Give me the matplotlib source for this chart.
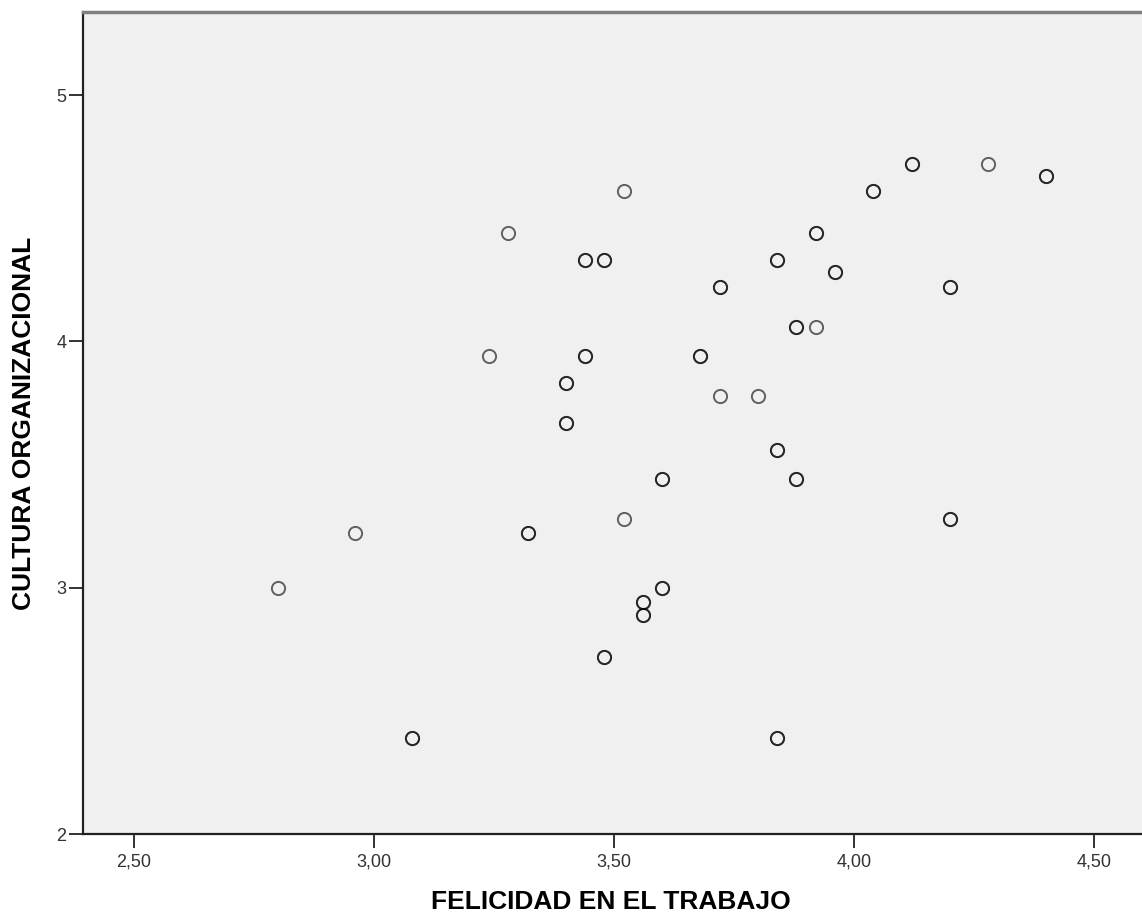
import matplotlib.pyplot as plt
from matplotlib.ticker import FuncFormatter

# felicidad en el trabajo (x) vs cultura organizacional (y)
# repeated pairs are real duplicates, they show up as darker circles
felicidad = [2.80, 2.96, 3.08, 3.08, 3.24, 3.28, 3.32, 3.32, 3.40, 3.40,
             3.40, 3.40, 3.44, 3.44, 3.44, 3.44, 3.48, 3.48, 3.48, 3.48,
             3.52, 3.52, 3.56, 3.56, 3.56, 3.56, 3.60, 3.60, 3.60, 3.60,
             3.68, 3.68, 3.72, 3.72, 3.72, 3.80, 3.84, 3.84, 3.84, 3.84,
             3.84, 3.84, 3.88, 3.88, 3.88, 3.88, 3.92, 3.92, 3.92, 3.96,
             3.96, 4.04, 4.04, 4.12, 4.12, 4.20, 4.20, 4.20, 4.20, 4.28,
             4.40, 4.40]
cultura = [3.00, 3.22, 2.39, 2.39, 3.94, 4.44, 3.22, 3.22, 3.67, 3.67,
           3.83, 3.83, 3.94, 3.94, 4.33, 4.33, 4.33, 4.33, 2.72, 2.72,
           4.61, 3.28, 2.94, 2.94, 2.89, 2.89, 3.44, 3.44, 3.00, 3.00,
           3.94, 3.94, 4.22, 4.22, 3.78, 3.78, 4.33, 4.33, 3.56, 3.56,
           2.39, 2.39, 4.06, 4.06, 3.44, 3.44, 4.44, 4.44, 4.06, 4.28,
           4.28, 4.61, 4.61, 4.72, 4.72, 4.22, 4.22, 3.28, 3.28, 4.72,
           4.67, 4.67]

x_ticks = [2.50, 3.00, 3.50, 4.00, 4.50]
y_ticks = [2, 3, 4, 5]

plt.rcParams['font.family'] = ['Liberation Sans', 'DejaVu Sans']

fig = plt.figure(figsize=(11.42, 9.17), dpi=100)
ax = fig.add_axes([0.0727, 0.0905, 0.9273, 0.8964])
ax.set_facecolor('#f0f0f0')

ax.plot(felicidad, cultura, linestyle='none', marker='o', markersize=9.5,
        markerfacecolor='none', markeredgecolor='black',
        markeredgewidth=1.4, alpha=0.6)

ax.set_xlim(2.394, 4.60)
ax.set_ylim(2, 5.337)
ax.set_xticks(x_ticks)
ax.set_yticks(y_ticks)
ax.xaxis.set_major_formatter(FuncFormatter(lambda v, p: f'{v:.2f}'.replace('.', ',')))
ax.yaxis.set_major_formatter(FuncFormatter(lambda v, p: f'{v:.0f}'))
ax.tick_params(axis='both', length=10, width=1.3, color='#222222',
               labelsize=13, labelcolor='#333333')
ax.tick_params(axis='x', pad=4)
ax.tick_params(axis='y', pad=2)

ax.spines['left'].set_linewidth(1.6)
ax.spines['bottom'].set_linewidth(1.6)
ax.spines['left'].set_color('#222222')
ax.spines['bottom'].set_color('#222222')
ax.spines['top'].set_color('#808080')
ax.spines['top'].set_linewidth(2.5)
ax.spines['right'].set_visible(False)

ax.set_xlabel('FELICIDAD EN EL TRABAJO', fontsize=19, fontweight='bold', va='center')
ax.set_ylabel('CULTURA ORGANIZACIONAL', fontsize=19, fontweight='bold', va='center')
ax.xaxis.set_label_coords(0.4986, -0.0827)
ax.yaxis.set_label_coords(-0.0557, 0.5)

fig.savefig('out.png', dpi=100)
plt.close(fig)
